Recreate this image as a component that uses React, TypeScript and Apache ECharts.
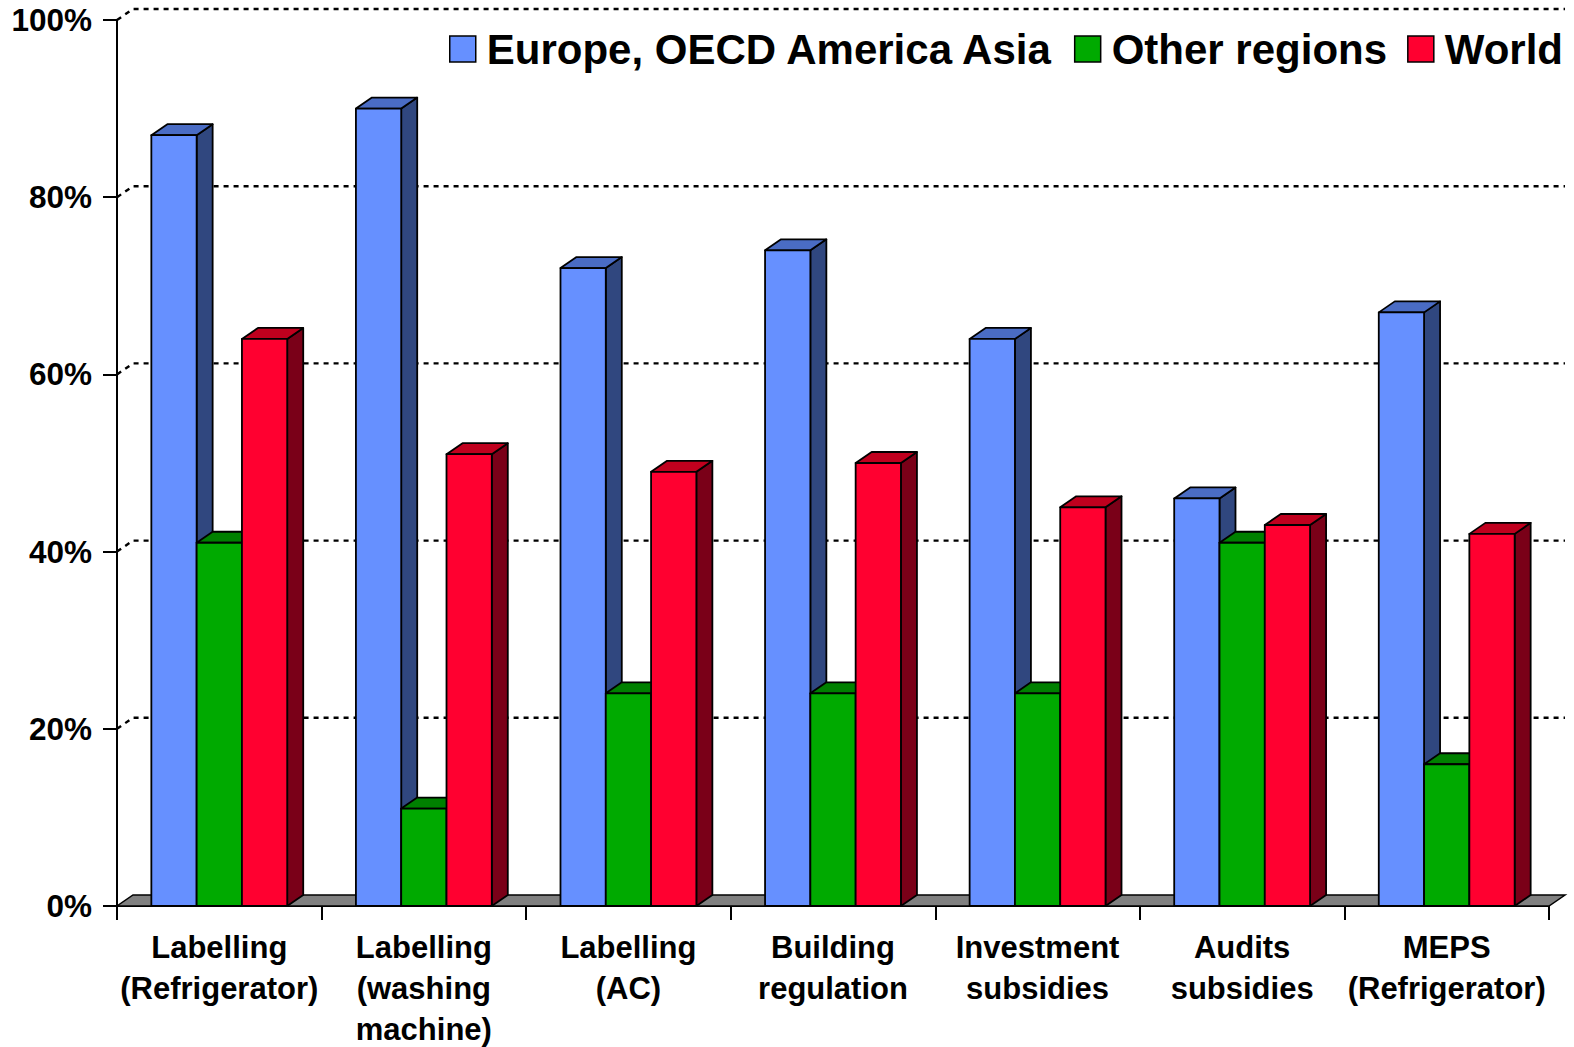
import React, { useEffect, useRef } from "react";
import * as echarts from "echarts";

const categories = [
  "Labelling\n(Refrigerator)",
  "Labelling\n(washing\nmachine)",
  "Labelling\n(AC)",
  "Building\nregulation",
  "Investment\nsubsidies",
  "Audits\nsubsidies",
  "MEPS\n(Refrigerator)",
];
const seriesNames = ["Europe, OECD America Asia", "Other regions", "World"];
const europe = [87, 90, 72, 74, 64, 46, 67];
const otherRegions = [41, 11, 24, 24, 24, 41, 16];
const world = [64, 51, 49, 50, 45, 43, 42];
const gridTicks = [20, 40, 60, 80, 100];

const FONT = "'Liberation Sans', Arial, Helvetica, sans-serif";
const DX = 16;
const DY = -11;

const palettes = [
  { front: "#6690FF", top: "#4A6CC4", side: "#30477F" },
  { front: "#00AA00", top: "#008000", side: "#005A00" },
  { front: "#FF0030", top: "#C0001E", side: "#7A0018" },
];

function barRender(idx: number) {
  const pal = palettes[idx];
  return (params: any, api: any) => {
    const ci = api.value(0);
    const v = api.value(1);
    const pt = api.coord([ci, v]);
    const base = api.coord([ci, 0]);
    const band = api.size([1, 0])[0];
    const bw = band * 0.2214;
    const xl = pt[0] - 1.5 * bw + idx * bw;
    const xr = xl + bw;
    const yt = pt[1];
    const y0 = base[1];
    const stroke = { stroke: "#000", lineWidth: 1.8, lineJoin: "round" };
    return {
      type: "group",
      children: [
        {
          type: "polygon",
          shape: { points: [[xr, yt], [xr + DX, yt + DY], [xr + DX, y0 + DY], [xr, y0]] },
          style: { fill: pal.side, ...stroke },
        },
        {
          type: "polygon",
          shape: { points: [[xl, yt], [xr, yt], [xr + DX, yt + DY], [xl + DX, yt + DY]] },
          style: { fill: pal.top, ...stroke },
        },
        {
          type: "rect",
          shape: { x: xl, y: yt, width: bw, height: y0 - yt },
          style: { fill: pal.front, ...stroke },
        },
      ],
    };
  };
}

const seriesData = [europe, otherRegions, world];

export default function App() {
  const ref = useRef<HTMLDivElement>(null);
  useEffect(() => {
    const chart = echarts.init(ref.current!, null, { renderer: "svg" });
    const option: any = {
      animation: false,
      backgroundColor: "#fff",
      textStyle: { fontFamily: FONT },
      legend: {
        left: 449,
        top: 28,
        width: 2400,
        padding: 0,
        icon: "rect",
        itemWidth: 26,
        itemHeight: 26,
        itemGap: 20,
        selectedMode: false,
        textStyle: {
          fontFamily: FONT,
          fontSize: 42,
          fontWeight: "bold",
          color: "#000",
          padding: [0, 0, 0, 6],
        },
        data: seriesNames.map((n, i) => ({
          name: n,
          itemStyle: { color: palettes[i].front, borderColor: "#000", borderWidth: 1.5 },
        })),
      },
      grid: { left: 117, top: 20, width: 1432, height: 886, outerBoundsMode: "none", containLabel: false },
      xAxis: {
        type: "category",
        data: categories,
        axisLine: { show: true, lineStyle: { color: "#000", width: 2 } },
        axisTick: { show: true, length: 14, lineStyle: { color: "#000", width: 2 } },
        axisLabel: {
          interval: 0,
          margin: 21,
          fontFamily: FONT,
          fontSize: 31,
          fontWeight: "bold",
          color: "#000",
          lineHeight: 41,
        },
        splitLine: { show: false },
      },
      yAxis: {
        type: "value",
        min: 0,
        max: 100,
        interval: 20,
        axisLine: { show: true, lineStyle: { color: "#000", width: 2 } },
        axisTick: { show: true, length: 14, lineStyle: { color: "#000", width: 2 } },
        axisLabel: {
          formatter: "{value}%",
          margin: 25,
          fontFamily: FONT,
          fontSize: 31.5,
          fontWeight: "bold",
          color: "#000",
        },
        splitLine: { show: false },
      },
      series: [
        {
          type: "custom",
          name: "gridlines",
          silent: true,
          z: 1,
          encode: { x: 0, y: 1 },
          data: gridTicks.map((t) => [0, t]),
          renderItem: (params: any, api: any) => {
            const cs = params.coordSys;
            const y = api.coord([0, api.value(1)])[1];
            return {
              type: "polyline",
              shape: {
                points: [
                  [cs.x, y],
                  [cs.x + DX, y + DY],
                  [cs.x + cs.width + DX, y + DY],
                ],
              },
              style: { stroke: "#000", lineWidth: 2.4, lineDash: [5, 5], fill: null },
            };
          },
        },
        {
          type: "custom",
          name: "floor",
          silent: true,
          z: 2,
          encode: { x: 0, y: 1 },
          data: [[0, 0]],
          renderItem: (params: any, api: any) => {
            const cs = params.coordSys;
            const y0 = api.coord([0, 0])[1];
            const x0 = cs.x;
            const x1 = cs.x + cs.width;
            return {
              type: "polygon",
              shape: {
                points: [
                  [x0, y0],
                  [x1, y0],
                  [x1 + DX, y0 + DY],
                  [x0 + DX, y0 + DY],
                ],
              },
              style: { fill: "#808080", stroke: "#000", lineWidth: 1.5 },
            };
          },
        },
        ...seriesNames.map((name, i) => ({
          type: "custom",
          name,
          z: 3 + i,
          encode: { x: 0, y: 1 },
          itemStyle: { color: palettes[i].front },
          data: seriesData[i].map((v, ci) => [ci, v]),
          renderItem: barRender(i),
        })),
      ],
    };
    chart.setOption(option);
    return () => chart.dispose();
  }, []);
  return (
    <div
      ref={ref}
      style={{ position: "fixed", left: 0, top: 0, width: 1574, height: 1047 }}
    />
  );
}
